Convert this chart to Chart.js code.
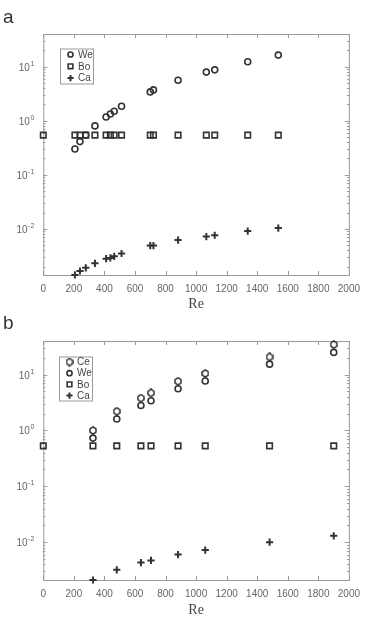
<!DOCTYPE html>
<html lang="en">
<head>
  <meta charset="UTF-8">
  <title>We, Bo, Ca vs Re</title>
  <script src="https://cdn.jsdelivr.net/npm/chart.js@4"></script>
  <style>
    body { margin: 0; background: #fff; font-family: "Liberation Sans", Arial, sans-serif; }
    .wrap { position: relative; width: 368px; height: 627px; }
    canvas { position: absolute; left: 0; }
    #chartA { top: 0; }
    #chartB { top: 313px; }
    .panel { position: absolute; left: 3px; font-size: 19px; color: #333; }
  </style>
</head>
<body>
  <div class="wrap">
    <canvas id="chartA" width="368" height="313"></canvas>
    <canvas id="chartB" width="368" height="314"></canvas>
    <div class="panel" style="top:6px">a</div>
    <div class="panel" style="top:312px">b</div>
  </div>
  <script>
    // panel a
    const reA = [0, 207, 240, 278, 338, 411, 439, 464, 512, 700, 721, 882, 1067, 1122, 1338, 1538];
    const weA = [null, 0.30, 0.41, 0.54, 0.80, 1.17, 1.33, 1.49, 1.85, 3.4, 3.7, 5.6, 7.9, 8.7, 12.3, 16.3];
    const boA = [0.54, 0.54, 0.54, 0.54, 0.54, 0.54, 0.54, 0.54, 0.54, 0.54, 0.54, 0.54, 0.54, 0.54, 0.54, 0.54];
    const caA = [null, 0.0014, 0.00166, 0.0019, 0.0023, 0.0028, 0.0029, 0.0031, 0.0035, 0.0049, 0.0049, 0.0062, 0.0072, 0.0076, 0.0091, 0.0103];

    // panel b
    const reB = [0, 325, 481, 639, 705, 882, 1060, 1481, 1901];
    const ceB = [null, 1.0, 2.2, 3.8, 4.7, 7.6, 10.5, 20.7, 34.5];
    const weB = [null, 0.73, 1.6, 2.8, 3.4, 5.6, 7.7, 15.4, 25];
    const boB = [0.53, 0.53, 0.53, 0.53, 0.53, 0.53, 0.53, 0.53, 0.53];
    const caB = [null, 0.0021, 0.0032, 0.0043, 0.0047, 0.0060, 0.0072, 0.0100, 0.0130];

    const xTicks = [0, 200, 400, 600, 800, 1000, 1200, 1400, 1600, 1800, 2000];
    const decades = [-2, -1, 0, 1];

    const INK = '#333';
    const AXIS = '#999';

    function hexMarker() {
      const c = document.createElement('canvas');
      c.width = 8; c.height = 9;
      const g = c.getContext('2d');
      g.strokeStyle = INK;
      g.lineWidth = 1.5;
      g.beginPath();
      g.moveTo(4, 0.8); g.lineTo(7, 2.8); g.lineTo(7, 6.2);
      g.lineTo(4, 8.2); g.lineTo(1, 6.2); g.lineTo(1, 2.8);
      g.closePath();
      g.stroke();
      return c;
    }

    const styles = {
      Ce: { pointStyle: hexMarker(), pointRadius: 4, pointBorderWidth: 1.5 },
      We: { pointStyle: 'circle', pointRadius: 3, pointBorderWidth: 1.6 },
      Bo: { pointStyle: 'rect', pointRadius: 3.9, pointBorderWidth: 1.6 },
      Ca: { pointStyle: 'cross', pointRadius: 3.6, pointBorderWidth: 2 }
    };

    function series(label, xs, ys) {
      const pts = [];
      xs.forEach((x, i) => { if (ys[i] !== null) pts.push({ x: x, y: ys[i] }); });
      return Object.assign({
        label: label,
        data: pts,
        borderColor: INK,
        backgroundColor: 'rgba(0,0,0,0)',
        pointBackgroundColor: 'rgba(0,0,0,0)',
        pointBorderColor: INK,
        showLine: false,
        clip: false
      }, styles[label]);
    }

    // frame, inward ticks, y labels, "Re", legend
    const decor = {
      id: 'decor',
      beforeDatasetsDraw(chart) {
        const ctx = chart.ctx, a = chart.chartArea;
        const xs = chart.scales.x, ys = chart.scales.y;
        ctx.save();
        ctx.strokeStyle = AXIS;
        ctx.lineWidth = 1;
        ctx.strokeRect(a.left + 0.5, a.top + 0.5, a.right - a.left, a.bottom - a.top);
        ctx.beginPath();
        xTicks.forEach(v => {
          const px = Math.round(xs.getPixelForValue(v)) + 0.5;
          ctx.moveTo(px, a.bottom); ctx.lineTo(px, a.bottom - 4);
          ctx.moveTo(px, a.top); ctx.lineTo(px, a.top + 4);
        });
        for (let p = -3; p <= 1; p++) {
          for (let k = 1; k <= 9; k++) {
            const v = k * Math.pow(10, p);
            if (v < ys.min || v > ys.max) continue;
            const py = Math.round(ys.getPixelForValue(v)) + 0.5;
            const len = k === 1 ? 4 : 2;
            ctx.moveTo(a.left, py); ctx.lineTo(a.left + len, py);
            ctx.moveTo(a.right, py); ctx.lineTo(a.right - len, py);
          }
        }
        ctx.stroke();

        // y labels 10^n
        ctx.fillStyle = '#666';
        decades.forEach(p => {
          const py = ys.getPixelForValue(Math.pow(10, p));
          const sup = p < 0 ? '-' + (-p) : String(p);
          ctx.font = '7px "Liberation Sans", Arial';
          const sw = ctx.measureText(sup).width;
          const sx = a.left - 9 - sw;
          ctx.textAlign = 'left';
          ctx.textBaseline = 'alphabetic';
          ctx.fillText(sup, sx, py - 1);
          ctx.font = '10px "Liberation Sans", Arial';
          ctx.textAlign = 'right';
          ctx.fillText('10', sx - 0.5, py + 4);
        });

        // x title
        ctx.fillStyle = '#444';
        ctx.font = '14px "Liberation Serif", "Times New Roman", serif';
        ctx.textAlign = 'center';
        ctx.textBaseline = 'middle';
        ctx.fillText('Re', (a.left + a.right) / 2, a.bottom + chart.options.reOffset);
        ctx.restore();
      },
      afterDraw(chart) {
        const ctx = chart.ctx, L = chart.options.legendBox;
        const sets = chart.data.datasets;
        ctx.save();
        ctx.fillStyle = '#fff';
        ctx.fillRect(L.x, L.y, L.w, L.h);
        ctx.strokeStyle = AXIS;
        ctx.lineWidth = 1;
        ctx.strokeRect(L.x + 0.5, L.y + 0.5, L.w, L.h);
        sets.forEach((ds, i) => {
          const cy = L.y + L.first + i * L.step;
          ctx.strokeStyle = INK;
          ctx.fillStyle = 'rgba(0,0,0,0)';
          ctx.lineWidth = ds.pointBorderWidth;
          Chart.helpers.drawPoint(ctx, {
            pointStyle: ds.pointStyle,
            radius: ds.pointRadius * 0.85,
            rotation: 0,
            borderWidth: ds.pointBorderWidth
          }, L.x + 10.5, cy);
          ctx.fillStyle = '#444';
          ctx.font = '10px "Liberation Sans", Arial';
          ctx.textAlign = 'left';
          ctx.textBaseline = 'middle';
          ctx.fillText(ds.label, L.x + 18, cy + 0.5);
        });
        ctx.restore();
      }
    };

    function makeChart(id, datasets, yMin, yMax, box, legendBox, reOffset) {
      return new Chart(document.getElementById(id), {
        type: 'scatter',
        data: { datasets: datasets },
        plugins: [decor],
        options: {
          responsive: false,
          animation: false,
          legendBox: legendBox,
          reOffset: reOffset,
          layout: { padding: { left: 0, top: box.top, right: box.right, bottom: 0 } },
          plugins: { legend: { display: false }, tooltip: { enabled: false } },
          scales: {
            x: {
              type: 'linear', min: 0, max: 2000,
              grid: { display: false, drawTicks: false },
              border: { display: false },
              afterBuildTicks: s => { s.ticks = xTicks.map(v => ({ value: v })); },
              afterFit: s => { s.height = box.xHeight; },
              ticks: {
                color: '#666', padding: 8,
                font: { size: 10, family: '"Liberation Sans", Arial' },
                callback: v => String(v)
              }
            },
            y: {
              type: 'logarithmic', min: yMin, max: yMax,
              grid: { display: false, drawTicks: false },
              border: { display: false },
              ticks: { display: false },
              afterFit: s => { s.width = box.left; }
            }
          }
        }
      });
    }

    makeChart('chartA', [
      series('We', reA, weA),
      series('Bo', reA, boA),
      series('Ca', reA, caA)
    ], 0.0014, 40,
      { top: 34, right: 8.5, left: 43.3, xHeight: 38 },
      { x: 60, y: 48.5, w: 33, h: 35, first: 6, step: 11.8 }, 29);

    makeChart('chartB', [
      series('Ce', reB, ceB),
      series('We', reB, weB),
      series('Bo', reB, boB),
      series('Ca', reB, caB)
    ], 0.0021, 40,
      { top: 28, right: 8.5, left: 43.3, xHeight: 47 },
      { x: 59, y: 43.5, w: 33, h: 44, first: 5.5, step: 11.2 }, 30);
  </script>
</body>
</html>
